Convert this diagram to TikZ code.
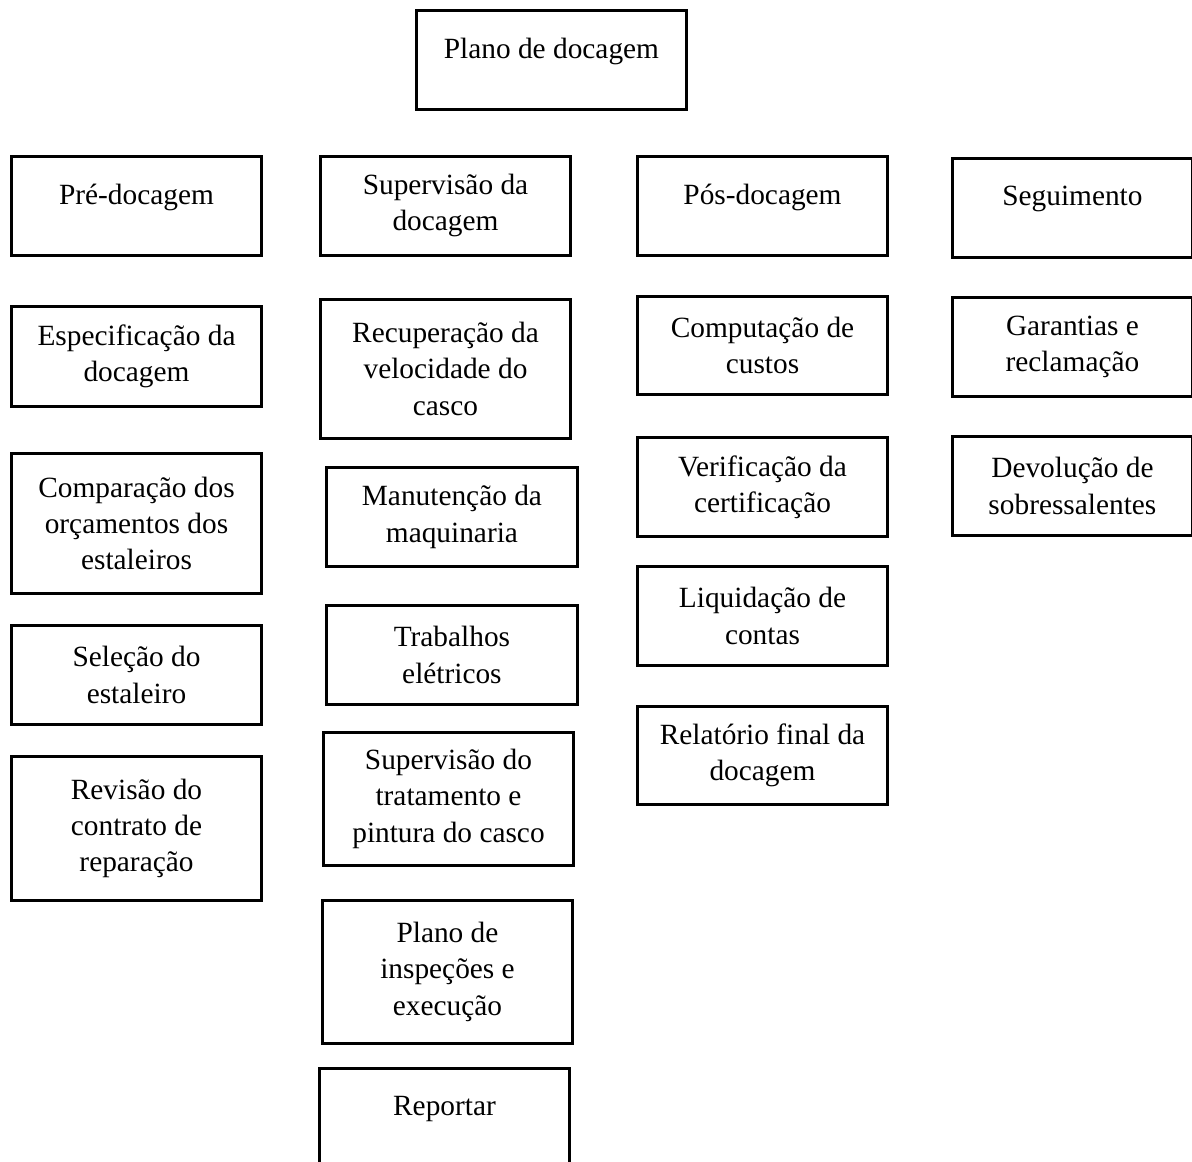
\documentclass[tikz,border=0pt]{standalone}
\usepackage{fontspec}
\setmainfont{Liberation Serif}
\usetikzlibrary{positioning}

\begin{document}
\begin{tikzpicture}[
    x=0.385pt, y=-0.385pt,
    box/.style={rectangle, draw, line width=1.1pt, anchor=north west, align=center,
      minimum width=96.3pt, inner sep=2pt, font=\fontsize{11.3}{13.9}\selectfont},
    wd/.style={minimum width=#1*0.385pt},
    ht/.style={minimum height=#1*0.385pt},
    single/.style={text depth=9.1pt},
  ]
    \useasboundingbox (0,0) rectangle (1192,1162);
    \clip (0,0) rectangle (1192,1162);

    % top
    \node[box, single, wd=270, ht=99] (plano) at (415,9) {Plano de docagem};

    % pre-docagem column
    \node[box, single, ht=99] (pre) at (10,155) {Pré-docagem};
    \node[box, ht=100] (espec) at (10,305) {Especificação da\\docagem};
    \node[box, ht=140] (orcam) at (10,452) {Comparação dos\\orçamentos dos\\estaleiros};
    \node[box, ht=99] (selec) at (10,624) {Seleção do\\estaleiro};
    \node[box, ht=144] (revis) at (10,755) {Revisão do\\contrato de\\reparação};

    % supervisao column
    \node[box, ht=99] (superv) at (319,155) {Supervisão da\\docagem};
    \node[box, ht=139] (recup) at (319,298) {Recuperação da\\velocidade do\\casco};
    \node[box, wd=251, ht=99] (maqui) at (325,466) {Manutenção da\\maquinaria};
    \node[box, wd=251, ht=99] (elect) at (325,604) {Trabalhos\\elétricos};
    \node[box, ht=133] (pint) at (322,731) {Supervisão do\\tratamento e\\pintura do casco};
    \node[box, ht=143] (inspec) at (321,899) {Plano de\\inspeções e\\execução};
    \node[box, single, ht=99] (report) at (318,1067) {Reportar};

    % pos-docagem column
    \node[box, single, ht=99] (pos) at (636,155) {Pós-docagem};
    \node[box, ht=98] (custos) at (636,295) {Computação de\\custos};
    \node[box, ht=99] (certif) at (636,436) {Verificação da\\certificação};
    \node[box, ht=99] (contas) at (636,565) {Liquidação de\\contas};
    \node[box, ht=98] (relat) at (636,705) {Relatório final da\\docagem};

    % seguimento column
    \node[box, single, wd=240, ht=99] (segui) at (951,157) {Seguimento};
    \node[box, wd=240, ht=99] (garant) at (951,296) {Garantias e\\reclamação};
    \node[box, wd=240, ht=99] (devol) at (951,435) {Devolução de\\sobressalentes};
  \end{tikzpicture}
\end{document}
